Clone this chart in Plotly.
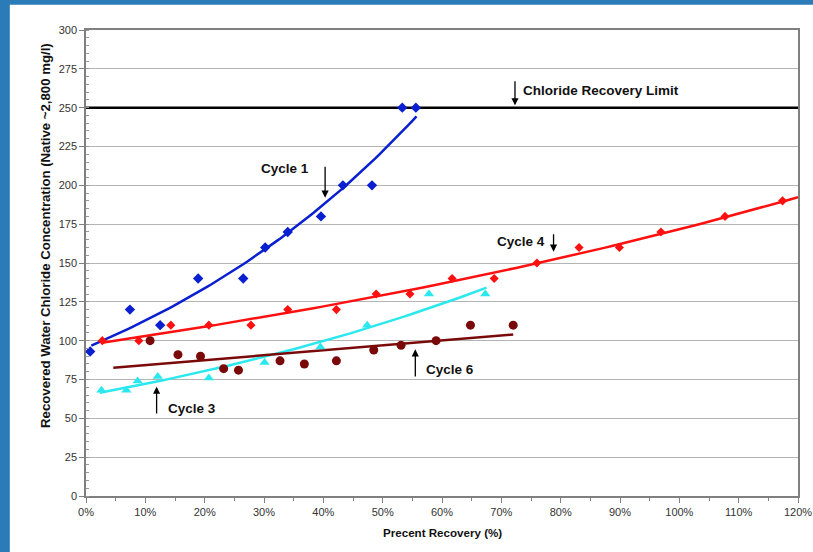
import numpy as np
import plotly.graph_objects as go

# ---------------- data ----------------
cycle1_x = [0.7, 7.4, 12.5, 18.9, 26.5, 30.2, 34.0, 39.6, 43.3, 48.2, 53.3, 55.6]
cycle1_y = [93, 120, 110, 140, 140, 160, 170, 180, 200, 200, 250, 250]

cycle4_x = [2.75, 8.9, 14.3, 20.7, 27.8, 34.0, 42.2, 48.9, 54.6, 61.7, 68.8,
            76.0, 83.1, 89.9, 96.9, 107.7, 117.4]
cycle4_y = [100, 100, 110, 110, 110, 120, 120, 130, 130, 140, 140,
            150, 160, 160, 170, 180, 190]

cycle3_x = [2.6, 6.8, 8.7, 12.1, 20.7, 30.1, 39.5, 47.4, 57.8, 67.3]
cycle3_y = [68, 68, 74, 77, 76, 86, 96, 110, 130, 130]

cycle6_x = [10.8, 15.5, 19.3, 23.2, 25.7, 32.7, 36.8, 42.2, 48.5, 53.1, 59.0, 64.8, 72.0]
cycle6_y = [100, 91, 90, 82, 81, 87, 85, 87, 94, 97, 100, 110, 110]

chloride_limit = 250

# trendline spans (x range in % recovery, as drawn in the reference)
cycle1_trend_span = [0.9, 55.7]
cycle4_trend_span = [2.7, 120.0]
cycle3_trend_span = [2.3, 67.5]
cycle6_trend_span = [4.6, 72.0]

x_ticks = list(range(0, 121, 10))
y_ticks = list(range(0, 301, 25))

BLUE = "#0a1fd0"
RED = "#ff1010"
CYAN = "#2ae8ee"
DARKRED = "#7a0a0a"


def exp_trend(xs, ys, span):
    b, a = np.polyfit(np.array(xs), np.log(np.array(ys)), 1)
    xx = np.linspace(span[0], span[1], 80)
    return xx, np.exp(a + b * xx)


def lin_trend(xs, ys, span):
    m, c = np.polyfit(np.array(xs), np.array(ys), 1)
    xx = np.array(span)
    return xx, m * xx + c


fig = go.Figure()

# chloride limit line
fig.add_trace(go.Scatter(x=[0, 120], y=[chloride_limit, chloride_limit], mode="lines",
                         line=dict(color="black", width=2.5), hoverinfo="skip"))

# trendlines
for (xs, ys, span, col, kind) in [
    (cycle1_x, cycle1_y, cycle1_trend_span, BLUE, "exp"),
    (cycle4_x, cycle4_y, cycle4_trend_span, RED, "exp"),
    (cycle3_x, cycle3_y, cycle3_trend_span, CYAN, "exp"),
    (cycle6_x, cycle6_y, cycle6_trend_span, DARKRED, "lin"),
]:
    tx, ty = exp_trend(xs, ys, span) if kind == "exp" else lin_trend(xs, ys, span)
    fig.add_trace(go.Scatter(x=tx, y=ty, mode="lines", line=dict(color=col, width=2.5),
                             hoverinfo="skip"))

# markers
fig.add_trace(go.Scatter(x=cycle1_x, y=cycle1_y, mode="markers", name="Cycle 1",
                         marker=dict(symbol="diamond", size=8, color=BLUE)))
fig.add_trace(go.Scatter(x=cycle4_x, y=cycle4_y, mode="markers", name="Cycle 4",
                         marker=dict(symbol="diamond", size=7, color=RED)))
fig.add_trace(go.Scatter(x=cycle3_x, y=cycle3_y, mode="markers", name="Cycle 3",
                         marker=dict(symbol="triangle-up", size=9, color=CYAN)))
fig.add_trace(go.Scatter(x=cycle6_x, y=cycle6_y, mode="markers", name="Cycle 6",
                         marker=dict(symbol="circle", size=9, color=DARKRED)))

LABEL_FONT = dict(family="Liberation Sans, Arial, sans-serif", size=13.5, color="#111111")

annotations = []


def arrow(x, y_tip, y_tail):
    annotations.append(dict(x=x, y=y_tip, ax=x, ay=y_tail, xref="x", yref="y",
                            axref="x", ayref="y", text="", showarrow=True,
                            arrowhead=2, arrowsize=1.1, arrowwidth=1.3, arrowcolor="black"))


def label(x, y, text, anchor="left"):
    annotations.append(dict(x=x, y=y, xref="x", yref="y", text="<b>%s</b>" % text,
                            showarrow=False, xanchor=anchor, yanchor="middle", font=LABEL_FONT))


arrow(72.3, 251.5, 268)
label(73.3, 260.8, "Chloride Recovery Limit")
arrow(40.3, 192, 213)
label(37.9, 210.6, "Cycle 1", "right")
arrow(78.8, 157.3, 169.5)
label(69.0, 163.8, "Cycle 4")
arrow(11.9, 70.4, 52.2)
label(13.4, 56.4, "Cycle 3")
arrow(55.5, 94.4, 76)
label(57.0, 81.6, "Cycle 6")

# axis titles as annotations for precise placement
annotations.append(dict(x=-0.057, y=0.559, xref="paper", yref="paper", textangle=-90,
                        text="<b>Recovered Water Chloride Concentration (Native ~2,800 mg/l)</b>",
                        showarrow=False, xanchor="center", yanchor="middle",
                        font=dict(family="Liberation Sans, Arial, sans-serif", size=13.2, color="#111")))
annotations.append(dict(x=0.5, y=-0.079, xref="paper", yref="paper",
                        text="<b>Precent Recovery (%)</b>", showarrow=False,
                        xanchor="center", yanchor="middle",
                        font=dict(family="Liberation Sans Narrow, Liberation Sans, Arial, sans-serif",
                                  size=11.6, color="#111")))

# slide frame: blue background with white panel
shapes = [dict(type="rect", xref="paper", yref="paper", x0=-0.107, x1=1.05, y0=-0.13, y1=1.054,
               fillcolor="white", line=dict(width=0), layer="below")]

fig.update_layout(
    template="none",
    width=813, height=552,
    autosize=False,
    margin=dict(l=86, r=15, t=30, b=56, pad=0),
    paper_bgcolor="#2b7bb9",
    plot_bgcolor="white",
    showlegend=False,
    annotations=annotations,
    shapes=shapes,
    font=dict(family="Liberation Sans Narrow, Liberation Sans, Arial, sans-serif", size=11, color="#333"),
)

fig.update_xaxes(range=[0, 120], tickvals=x_ticks, ticktext=["%d%%" % v for v in x_ticks],
                 automargin=False,
                 showgrid=False, zeroline=False, showline=True, linecolor="#808080", linewidth=1.5,
                 mirror=True, ticks="outside", ticklen=5, tickcolor="#808080",
                 minor=dict(dtick=5, ticks="outside", ticklen=3, tickcolor="#808080", showgrid=False),
                 tickfont=dict(size=11, color="#333"))
fig.update_yaxes(range=[0, 300], tickvals=y_ticks, showgrid=True, gridcolor="#b4b4b4", gridwidth=1,
                 automargin=False,
                 zeroline=False, showline=True, linecolor="#808080", linewidth=1.5, mirror=True,
                 ticks="outside", ticklen=5, tickcolor="#808080",
                 minor=dict(dtick=5, ticks="inside", ticklen=3, tickcolor="#999999", showgrid=False),
                 tickfont=dict(size=11, color="#333"))

fig.write_html("out.html",
               config={"responsive": False, "displayModeBar": False},
               post_script="document.body.style.margin='0px';document.body.style.overflow='hidden';")
